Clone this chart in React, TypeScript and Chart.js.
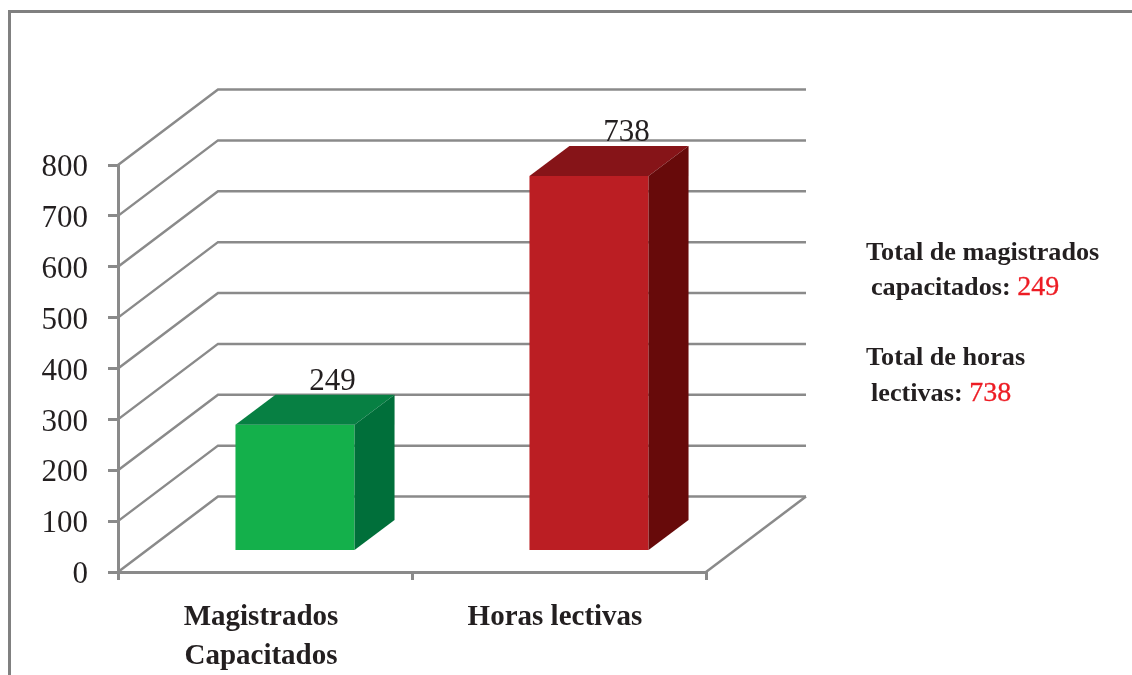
import React, { useEffect, useRef } from "react";
import { Chart, registerables } from "chart.js";

Chart.register(...registerables);

const categories = [["Magistrados", "Capacitados"], ["Horas lectivas"]];
const values = [249, 738];
const frontColors = ["#14b04b", "#bb1e23"];
const topColors = ["#078043", "#861418"];
const sideColors = ["#006f3a", "#670a0a"];
const noteLabels = [["Total de magistrados", "capacitados:"], ["Total de horas", "lectivas:"]];

const FONT = '"Liberation Serif", serif';
const INK = "#231f20";
const GRID = "#8a8a8a";
const WALL_X = 100;
const WALL_Y = 75.5;
const BAR_SHIFT_X = 30;
const BAR_SHIFT_Y = 20.5;
const DEPTH_X = 40;
const DEPTH_Y = 30;

const poly = (ctx: CanvasRenderingContext2D, fill: string, pts: number[][]) => {
  ctx.fillStyle = fill;
  ctx.beginPath();
  pts.forEach(([x, y], i) => (i ? ctx.lineTo(x, y) : ctx.moveTo(x, y)));
  ctx.closePath();
  ctx.fill();
};

const box3d = {
  id: "box3d",
  beforeDatasetsDraw(chart: any) {
    const { ctx, chartArea, scales } = chart;
    const y = scales.y;
    ctx.save();
    ctx.strokeStyle = GRID;
    ctx.lineWidth = 2.5;
    y.ticks.forEach((t: any) => {
      const py = y.getPixelForValue(t.value);
      ctx.beginPath();
      ctx.moveTo(chartArea.left, py);
      ctx.lineTo(chartArea.left + WALL_X, py - WALL_Y);
      ctx.lineTo(chartArea.right + WALL_X, py - WALL_Y);
      ctx.stroke();
    });
    const p0 = y.getPixelForValue(0);
    ctx.beginPath();
    ctx.moveTo(chartArea.right, p0);
    ctx.lineTo(chartArea.right + WALL_X, p0 - WALL_Y);
    ctx.stroke();
    ctx.restore();
  },
  beforeDatasetDraw(chart: any) {
    chart.ctx.save();
    chart.ctx.translate(BAR_SHIFT_X, -BAR_SHIFT_Y);
  },
  afterDatasetDraw(chart: any) {
    const { ctx } = chart;
    const meta = chart.getDatasetMeta(0);
    meta.data.forEach((bar: any, i: number) => {
      const l = bar.x - bar.width / 2;
      const r = bar.x + bar.width / 2;
      const t = bar.y;
      const b = bar.base;
      poly(ctx, topColors[i], [[l, t], [r, t], [r + DEPTH_X, t - DEPTH_Y], [l + DEPTH_X, t - DEPTH_Y]]);
      poly(ctx, sideColors[i], [[r, t], [r + DEPTH_X, t - DEPTH_Y], [r + DEPTH_X, b - DEPTH_Y], [r, b]]);
      ctx.fillStyle = INK;
      ctx.font = `31px ${FONT}`;
      ctx.textAlign = "center";
      ctx.textBaseline = "alphabetic";
      ctx.fillText(String(values[i]), bar.x + 37.5, t - 35);
    });
    ctx.restore();
  },
};

export default function App() {
  const ref = useRef<HTMLCanvasElement>(null);
  useEffect(() => {
    const chart = new Chart(ref.current as HTMLCanvasElement, {
      type: "bar",
      data: {
        labels: categories as any,
        datasets: [
          {
            data: values,
            backgroundColor: frontColors,
            borderWidth: 0,
            categoryPercentage: 1,
            barPercentage: 0.405,
            clip: false as any,
          },
        ],
      },
      options: {
        responsive: false,
        animation: false,
        layout: { padding: { top: 165, right: 426, left: 0, bottom: 0 } },
        plugins: { legend: { display: false }, tooltip: { enabled: false }, title: { display: false } },
        scales: {
          y: {
            min: 0,
            max: 800,
            afterFit: (s: any) => { s.width = 118; },
            ticks: {
              stepSize: 100,
              color: INK,
              padding: 20,
              labelOffset: 3,
              font: { family: FONT, size: 31 },
            },
            grid: { drawOnChartArea: false, drawTicks: true, tickLength: 10, color: GRID, lineWidth: 3 },
            border: { color: GRID, width: 3 },
          },
          x: {
            afterFit: (s: any) => { s.height = 103; },
            ticks: {
              color: INK,
              padding: 18,
              labelOffset: -4,
              maxRotation: 0,
              font: { family: FONT, size: 29, weight: "bold", lineHeight: 1.34 },
            },
            grid: { drawOnChartArea: false, drawTicks: true, tickLength: 8, color: GRID, lineWidth: 3 },
            border: { color: GRID, width: 3 },
          },
        },
      },
      plugins: [box3d],
    } as any);
    return () => chart.destroy();
  }, []);

  const red = { color: "#ed1c24", fontSize: 28, fontWeight: "normal" as const, WebkitTextStroke: "0.3px #ed1c24" };

  return (
    <div style={{ position: "absolute", left: 0, top: 0, width: 1132, height: 675, overflow: "hidden", background: "#fff" }}>
      <canvas ref={ref} width={1132} height={675} style={{ position: "absolute", left: 0, top: 0 }} />
      <div style={{ position: "absolute", left: 8, top: 10, right: 0, height: 3, background: "#808080" }} />
      <div style={{ position: "absolute", left: 8, top: 10, bottom: 0, width: 3, background: "#808080" }} />
      <div style={{ position: "absolute", left: 0, top: 0, font: `bold 26.2px/30px ${FONT}`, color: INK }}>
        <div style={{ position: "absolute", left: 866, top: 237, whiteSpace: "nowrap" }}>{noteLabels[0][0]}</div>
        <div style={{ position: "absolute", left: 871, top: 271, whiteSpace: "nowrap" }}>
          {noteLabels[0][1]} <span style={red}>{values[0]}</span>
        </div>
        <div style={{ position: "absolute", left: 866, top: 342, whiteSpace: "nowrap" }}>{noteLabels[1][0]}</div>
        <div style={{ position: "absolute", left: 871, top: 377, whiteSpace: "nowrap" }}>
          {noteLabels[1][1]} <span style={red}>{values[1]}</span>
        </div>
      </div>
    </div>
  );
}
